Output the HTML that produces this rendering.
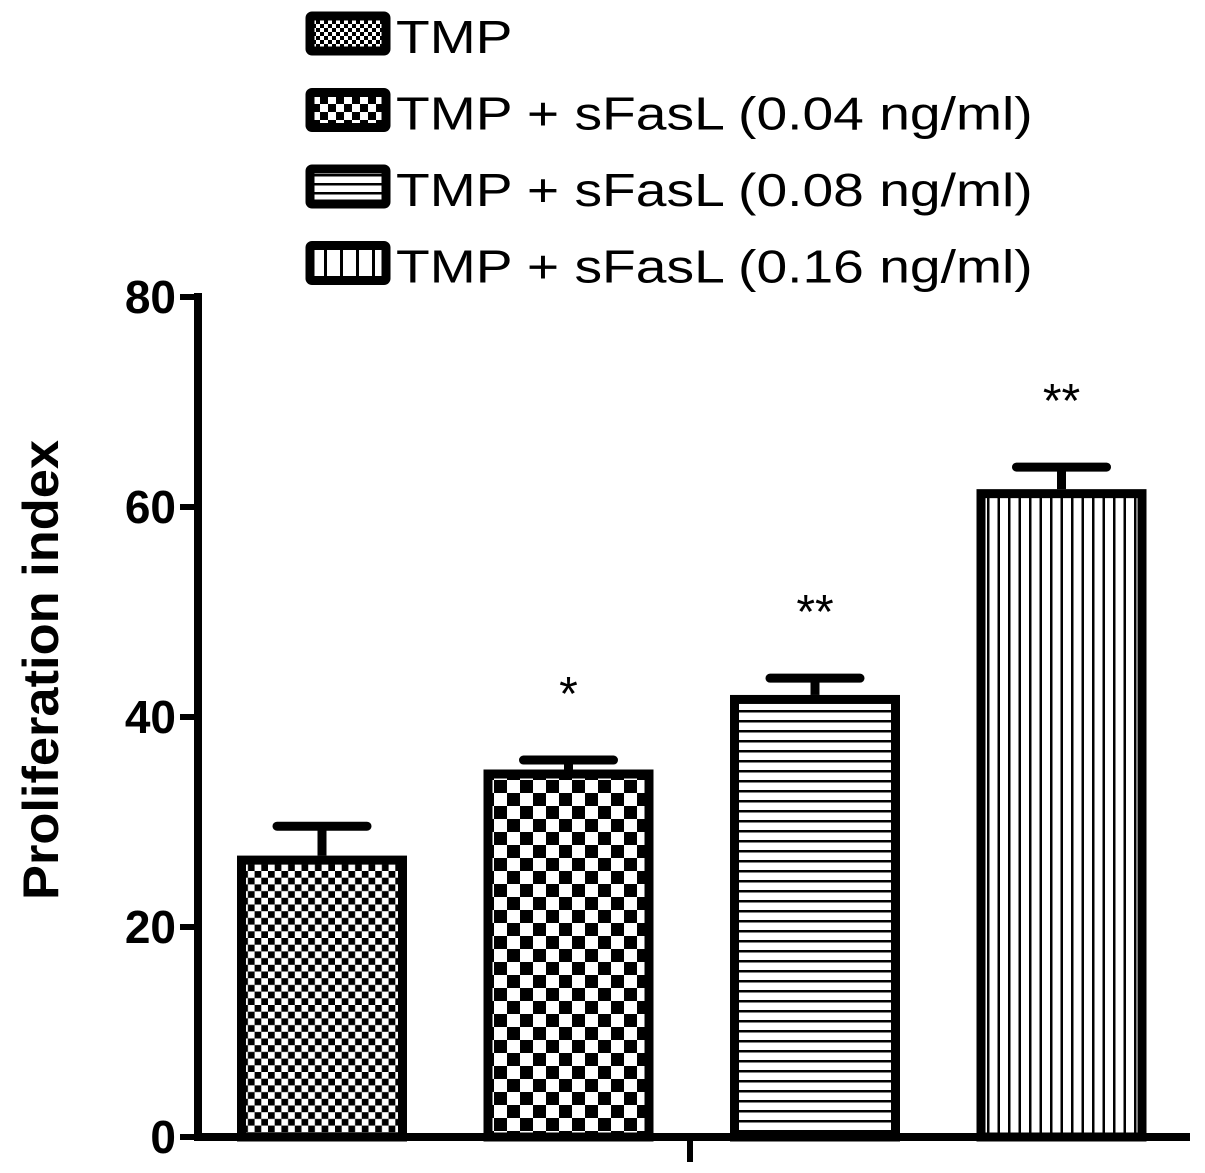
<!DOCTYPE html>
<html><head><meta charset="utf-8"><style>
html,body{margin:0;padding:0;background:#fff;}
svg{display:block;font-family:"Liberation Sans",Arial,sans-serif;}
</style></head><body>
<svg id="chart" width="1205" height="1173" viewBox="0 0 1205 1173">
<defs>
<pattern id="p0" width="13.4" height="13.4" patternUnits="userSpaceOnUse"><rect width="13.4" height="13.4" fill="#fff"/><rect width="6.7" height="6.7" fill="#000"/><rect x="6.7" y="6.7" width="6.7" height="6.7" fill="#000"/></pattern>
<pattern id="p1" width="26" height="26" patternUnits="userSpaceOnUse"><rect width="26" height="26" fill="#fff"/><rect width="13" height="13" fill="#000"/><rect x="13" y="13" width="13" height="13" fill="#000"/></pattern>
<pattern id="p2" width="10" height="10" patternUnits="userSpaceOnUse"><rect width="10" height="10" fill="#fff"/><rect y="0" width="10" height="2.5" fill="#000"/></pattern>
<pattern id="p3" width="10.5" height="10" patternUnits="userSpaceOnUse"><rect width="10.5" height="10" fill="#fff"/><rect x="0" width="2.5" height="10" fill="#000"/></pattern>
<pattern id="l0" width="8" height="8" patternUnits="userSpaceOnUse"><rect width="8" height="8" fill="#fff"/><rect width="4" height="4" fill="#000"/><rect x="4" y="4" width="4" height="4" fill="#000"/></pattern>
<pattern id="l1" width="16" height="16" patternUnits="userSpaceOnUse"><rect width="16" height="16" fill="#fff"/><rect width="8" height="8" fill="#000"/><rect x="8" y="8" width="8" height="8" fill="#000"/></pattern>
<pattern id="l2" width="10" height="9" patternUnits="userSpaceOnUse" y="3"><rect width="10" height="9" fill="#fff"/><rect width="10" height="2.5" fill="#000"/></pattern>
<pattern id="l3" width="16" height="10" patternUnits="userSpaceOnUse" x="4"><rect width="16" height="10" fill="#fff"/><rect width="3" height="10" fill="#000"/></pattern>
</defs>
<g id="legend"></g>
<g id="axes"></g>
<g id="bars"></g>
<text transform="translate(58,670) rotate(-90)" text-anchor="middle" font-size="50" font-weight="bold" textLength="460" lengthAdjust="spacingAndGlyphs">Proliferation index</text>
</svg>
<script>
const categories = ["TMP","TMP + sFasL (0.04 ng/ml)","TMP + sFasL (0.08 ng/ml)","TMP + sFasL (0.16 ng/ml)"];
const values = [26.8, 35.0, 42.1, 61.7];
const errors = [2.8, 0.9, 1.6, 2.1];
const stars = ["", "*", "**", "**"];
const yTicks = [0, 20, 40, 60, 80];
const NS="http://www.w3.org/2000/svg";
function mk(t,a,p){const e=document.createElementNS(NS,t);for(const k in a)e.setAttribute(k,a[k]);p.appendChild(e);return e;}
const y0=1137, yTop=297, yMax=80;
function y(v){return y0-(v/yMax)*(y0-yTop);}
const barStart=237, barStep=246.5, barW=170;
function bx(i){return barStart+i*barStep;}
const axes=document.getElementById('axes'), bars=document.getElementById('bars'), legend=document.getElementById('legend');
let e=mk('line',{x1:198,y1:y(yMax)-4,x2:198,y2:y0+4,stroke:'#000','stroke-width':8},axes);

e=mk('line',{x1:194,y1:y0,x2:1190,y2:y0,stroke:'#000','stroke-width':8},axes);

e=mk('line',{x1:690,y1:y0,x2:690,y2:1162,stroke:'#000','stroke-width':6},axes);

yTicks.forEach(t=>{
  const l=mk('line',{x1:180,y1:y(t),x2:200,y2:y(t),stroke:'#000','stroke-width':6},axes);
  
  
  const tx=mk('text',{x:176,y:y(t)+16,'text-anchor':'end','font-size':46,'font-weight':'bold'},axes);
  tx.textContent=t;
  
  
});
values.forEach((v,i)=>{
  const x=bx(i), top=y(v), et=y(v+errors[i]), cx=x+barW/2;
  const g=mk('g',{},bars);
  
  
  mk('line',{x1:cx,y1:et,x2:cx,y2:top,stroke:'#000','stroke-width':9},g);
  mk('line',{x1:cx-45,y1:et,x2:cx+45,y2:et,stroke:'#000','stroke-width':9,'stroke-linecap':'round'},g);
  mk('rect',{x:x+4.5,y:top+4.5,width:barW-9,height:y0-top-4.5,fill:'url(#p'+i+')',stroke:'#000','stroke-width':9},g);
  if(stars[i]){
    const s=mk('text',{x:cx,y:et-50,'text-anchor':'middle','font-size':48},g);
    s.textContent=stars[i];
    
    
  }
});
categories.forEach((c,i)=>{
  const ly=12+i*76.5;
  const g=mk('g',{},legend);
  
  
  mk('rect',{x:310,y:ly+4,width:76,height:35,fill:'url(#l'+i+')',stroke:'#000','stroke-width':9,rx:2},g);
  const t=mk('text',{x:396,y:ly+41,'font-size':46},g);
  t.textContent=c;
  const w=t.getComputedTextLength();
  t.setAttribute('textLength', (w*1.2).toFixed(1));
  t.setAttribute('lengthAdjust','spacingAndGlyphs');
});
</script>
</body></html>
